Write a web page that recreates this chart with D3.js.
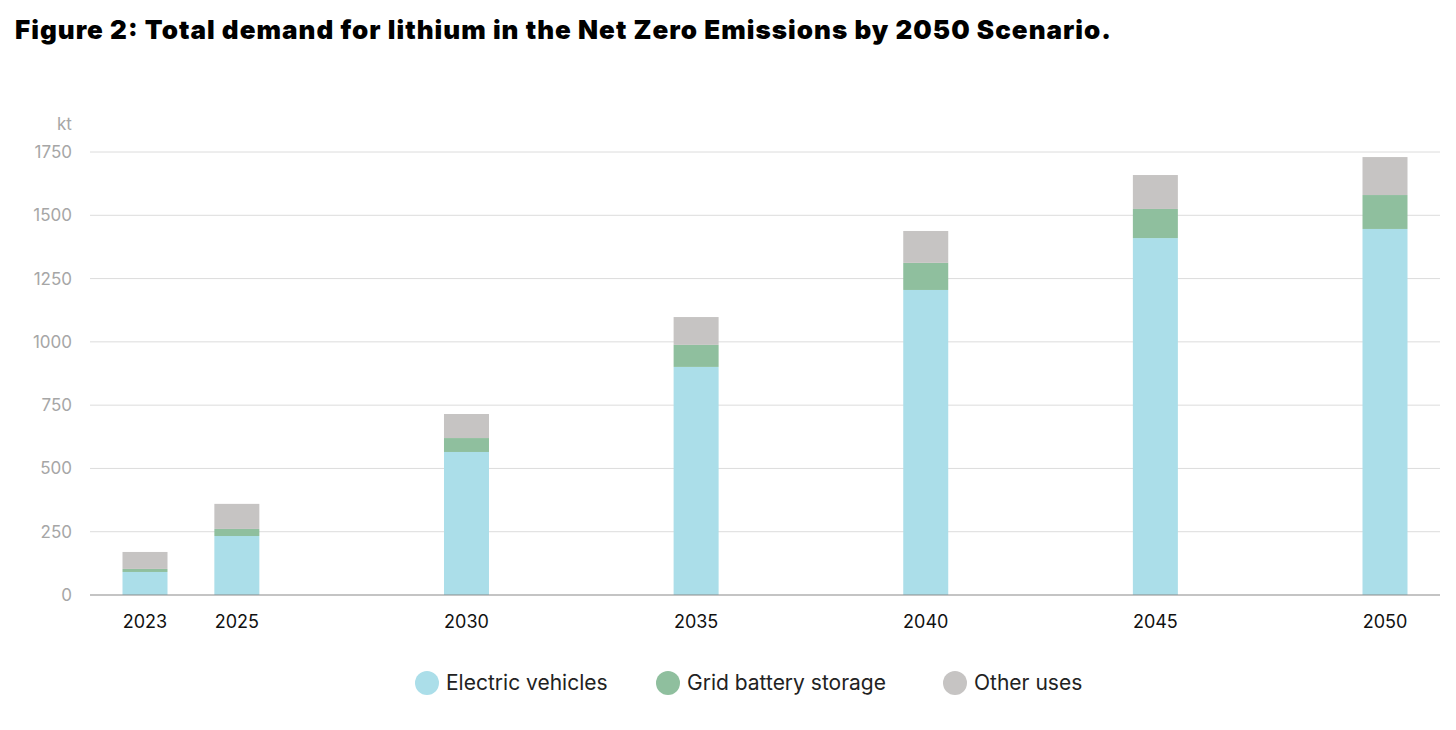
<!DOCTYPE html>
<html><head><meta charset="utf-8">
<script src="https://cdn.jsdelivr.net/npm/d3@7"></script>
<style>body{margin:0;background:#fff;font-family:Inter,"Noto Sans",sans-serif}</style>
</head><body>
<svg id="chart" width="1456" height="730"></svg>
<script>
const years = [2023, 2025, 2030, 2035, 2040, 2045, 2050];
const electricVehicles = [91, 233, 565, 901, 1205, 1410, 1446];
const gridStorage = [12, 28, 55, 87, 107, 115, 134];
const otherUses = [67, 99, 95, 110, 126, 134, 150];
const yTicks = [0, 250, 500, 750, 1000, 1250, 1500, 1750];
const seriesNames = ["Electric vehicles", "Grid battery storage", "Other uses"];
const colors = ["#abdee9", "#8fbf9e", "#c6c4c3"];

const svg = d3.select("#chart");
const x = d3.scaleLinear().domain([2023, 2050]).range([145, 1385]);
const y = d3.scaleLinear().domain([0, 1750]).range([595, 152]);
const barW = 45;

svg.append("text").attr("x", 15).attr("y", 39)
  .attr("font-size", 26).attr("font-weight", 900).attr("fill", "#000")
  .attr("textLength", 1096).attr("lengthAdjust", "spacing")
  .text("Figure 2: Total demand for lithium in the Net Zero Emissions by 2050 Scenario.");

// gridlines + y labels
svg.append("g").selectAll("line").data(yTicks.slice(1)).join("line")
  .attr("x1", 90).attr("x2", 1440).attr("y1", d => y(d)).attr("y2", d => y(d))
  .attr("stroke", "#dcdcdc");
svg.append("g").selectAll("text").data(yTicks).join("text")
  .attr("x", 72).attr("y", d => y(d) + 6).attr("text-anchor", "end")
  .attr("font-size", 17).attr("fill", "#a6a6a6").text(d => d);
svg.append("text").attr("x", 57).attr("y", 130).attr("font-size", 17)
  .attr("fill", "#a6a6a6").text("kt");

// stacked bars
const rows = years.map((yr, i) => ({ year: yr, ev: electricVehicles[i], grid: gridStorage[i], other: otherUses[i] }));
const stack = d3.stack().keys(["ev", "grid", "other"])(rows);
svg.append("g").selectAll("g").data(stack).join("g")
  .attr("fill", (d, i) => colors[i])
  .selectAll("rect").data(d => d).join("rect")
  .attr("x", d => x(d.data.year) - barW / 2).attr("width", barW)
  .attr("y", d => y(d[1])).attr("height", d => y(d[0]) - y(d[1]));

// baseline
svg.append("line").attr("x1", 90).attr("x2", 1440).attr("y1", y(0)).attr("y2", y(0))
  .attr("stroke", "#8a8a8a").attr("stroke-width", 1.2);

svg.append("g").selectAll("text").data(years).join("text")
  .attr("x", d => x(d)).attr("y", 628).attr("text-anchor", "middle")
  .attr("font-size", 18).attr("fill", "#111").text(d => d);

// legend
const legX = [427, 668, 955];
const leg = svg.append("g").selectAll("g").data(seriesNames).join("g")
  .attr("transform", (d, i) => `translate(${legX[i]},683)`);
leg.append("circle").attr("r", 12).attr("fill", (d, i) => colors[i]);
leg.append("text").attr("x", 19).attr("y", 7).attr("font-size", 21)
  .attr("fill", "#222").text(d => d);
</script>
</body></html>
